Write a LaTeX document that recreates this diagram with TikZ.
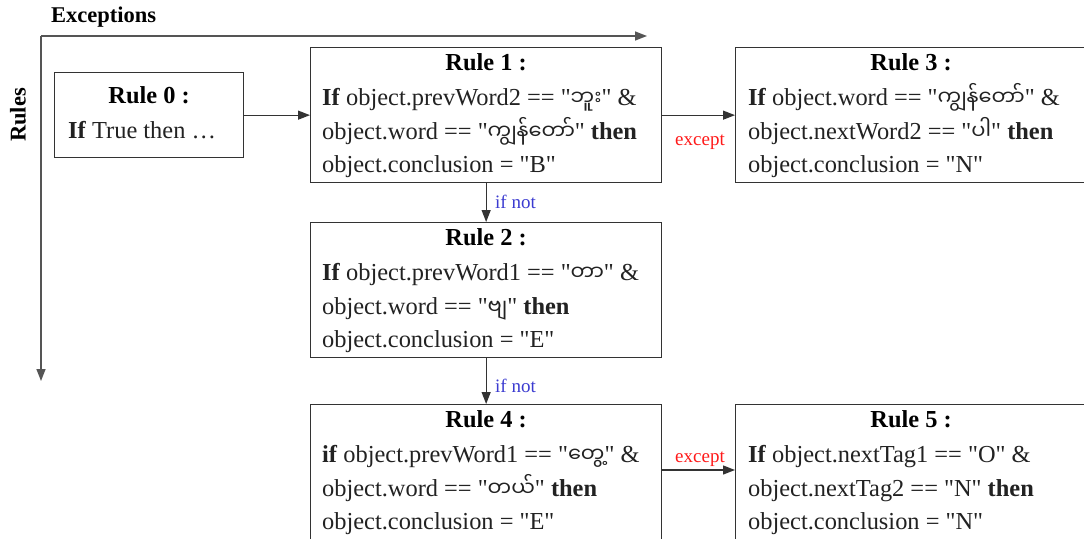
\documentclass[tikz,border=0pt]{standalone}
\usepackage{fontspec}
\setmainfont{Liberation Serif}[Ligatures=TeXOff]
\newfontfamily\my[Script=Myanmar,Scale=0.86]{Noto Sans Myanmar UI}
\usetikzlibrary{arrows.meta,calc}
\definecolor{ink}{HTML}{222222}
\definecolor{edge}{HTML}{333333}
\definecolor{axis}{HTML}{555555}
\definecolor{exc}{HTML}{FF1A1A}
\definecolor{ifn}{HTML}{3B3BD0}
\begin{document}
\begin{tikzpicture}[x=1pt,y=-1pt,
  rulebox/.style={draw=edge, line width=1.3pt, fill=white, inner sep=0pt, anchor=north west, minimum width=351pt, minimum height=135pt},
  ttl/.style={font=\fontsize{24.4}{29}\selectfont\bfseries, anchor=base, inner sep=0pt, text=black},
  ln/.style={font=\fontsize{24.4}{29}\selectfont, anchor=base west, inner sep=0pt, text=ink},
  lbl/.style={font=\fontsize{19}{22}\selectfont, inner sep=0pt},
  arr/.style={-{Triangle[length=12pt,width=9pt]}, line width=1.3pt, draw=edge},
  axarr/.style={-{Triangle[length=12pt,width=9pt]}, line width=1.5pt, draw=axis}]
\useasboundingbox (0,0) rectangle (1084,538);
\clip (0,0) rectangle (1084,538);

% axes
\coordinate (o) at (41,36);
\coordinate (ex) at (647,36);
\coordinate (ry) at (41,381);
\draw[axarr] (o) -- (ex);
\draw[axarr] (o) -- (ry);
\node[font=\fontsize{22.5}{27}\selectfont\bfseries, anchor=base west, inner sep=0pt] (exl) at (51,23) {Exceptions};
\node[font=\fontsize{22.5}{27}\selectfont\bfseries, rotate=90, inner sep=0pt] (rul) at (18,115) {Rules};

% Rule 0
\node[rulebox, minimum width=189pt, minimum height=85pt] (r0) at (54,72) {};
\node[ttl] (r0t) at ($(r0.north)+(0,31)$) {Rule 0 :};
\node[ln] (r0a) at ($(r0.north west)+(14,66)$) {\textbf{If} True then …};

% Rule 1
\node[rulebox] (r1) at (310,47) {};
\node[ttl] (r1t) at ($(r1.north)+(0,23)$) {Rule 1 :};
\node[ln] (r1a) at ($(r1.north west)+(12,58)$) {\textbf{If} object.prevWord2 == "{\my ဘူး}" \&};
\node[ln] (r1b) at ($(r1.north west)+(12,92)$) {object.word == "{\my ကျွန်တော်}" \textbf{then}};
\node[ln] (r1c) at ($(r1.north west)+(12,125)$) {object.conclusion = "B"};

% Rule 3
\node[rulebox] (r3) at (735,47) {};
\node[ttl] (r3t) at ($(r3.north)+(0,23)$) {Rule 3 :};
\node[ln] (r3a) at ($(r3.north west)+(13,58)$) {\textbf{If} object.word == "{\my ကျွန်တော်}" \&};
\node[ln] (r3b) at ($(r3.north west)+(13,92)$) {object.nextWord2 == "{\my ပါ}" \textbf{then}};
\node[ln] (r3c) at ($(r3.north west)+(13,125)$) {object.conclusion = "N"};

% Rule 2
\node[rulebox] (r2) at (310,222) {};
\node[ttl] (r2t) at ($(r2.north)+(0,23)$) {Rule 2 :};
\node[ln] (r2a) at ($(r2.north west)+(12,58)$) {\textbf{If} object.prevWord1 == "{\my တာ}" \&};
\node[ln] (r2b) at ($(r2.north west)+(12,92)$) {object.word == "{\my ဗျ}" \textbf{then}};
\node[ln] (r2c) at ($(r2.north west)+(12,125)$) {object.conclusion = "E"};

% Rule 4
\node[rulebox] (r4) at (310,404) {};
\node[ttl] (r4t) at ($(r4.north)+(0,23)$) {Rule 4 :};
\node[ln] (r4a) at ($(r4.north west)+(12,58)$) {\textbf{if} object.prevWord1 == "{\my တွေ့}" \&};
\node[ln] (r4b) at ($(r4.north west)+(12,92)$) {object.word == "{\my တယ်}" \textbf{then}};
\node[ln] (r4c) at ($(r4.north west)+(12,125)$) {object.conclusion = "E"};

% Rule 5
\node[rulebox] (r5) at (735,404) {};
\node[ttl] (r5t) at ($(r5.north)+(0,23)$) {Rule 5 :};
\node[ln] (r5a) at ($(r5.north west)+(13,58)$) {\textbf{If} object.nextTag1 == "O" \&};
\node[ln] (r5b) at ($(r5.north west)+(13,92)$) {object.nextTag2 == "N" \textbf{then}};
\node[ln] (r5c) at ($(r5.north west)+(13,125)$) {object.conclusion = "N"};

% connectors
\draw[arr] (r0.east) -- (r0.east -| r1.west);
\draw[arr] (r1.east) -- (r1.east -| r3.west);
\node[lbl, text=exc] (e1) at (700,142) {except};
\draw[arr] (r1.south) -- (r2.north);
\node[lbl, text=ifn, anchor=west] (n1) at (495,202) {if not};
\draw[arr] (r2.south) -- (r4.north);
\node[lbl, text=ifn, anchor=west] (n2) at (495,386) {if not};
\coordinate (a4) at ($(r4.north east)+(0,66)$);
\draw[arr] (a4) -- (a4 -| r5.west);
\node[lbl, text=exc] (e2) at (700,459) {except};
\end{tikzpicture}
\end{document}
